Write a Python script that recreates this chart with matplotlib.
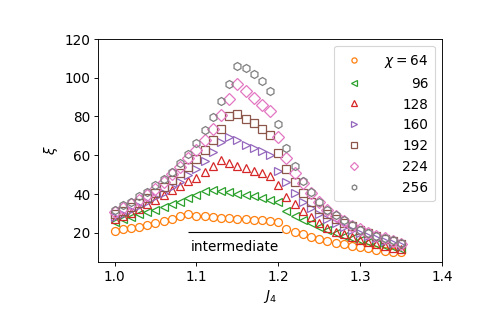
import numpy as np
import matplotlib
matplotlib.use("Agg")
import matplotlib.pyplot as plt

# J4 grid
J4 = np.round(np.arange(1.00, 1.355, 0.01), 2)

chis = [64, 96, 128, 160, 192, 224, 256]

xi_64 = [21.0, 21.6, 22.3, 23.1, 24.0, 25.0, 26.1, 27.2, 28.4, 29.4,
         28.6, 28.3, 28.0, 27.7, 27.4, 27.1, 26.8, 26.5, 26.2, 25.9, 25.6,
         21.9, 20.5, 19.3, 17.9, 16.7, 15.7, 14.8, 14.0, 13.2, 12.5,
         11.8, 11.2, 10.6, 10.1, 9.7]
xi_96 = [25.5, 26.8, 28.0, 29.3, 30.5, 31.8, 33.2, 34.6, 36.0, 37.6,
         39.5, 41.3, 42.0, 41.5, 40.8, 40.1, 39.3, 38.6, 37.8, 37.0, 36.0,
         30.9, 28.6, 26.6, 24.8, 23.1, 21.4, 19.8, 18.4, 17.1, 16.0,
         15.0, 14.0, 13.1, 12.3, 11.6]
xi_128 = [26.9, 28.6, 30.3, 32.2, 34.5, 36.9, 39.3, 41.8, 44.1, 46.4,
          48.4, 51.5, 54.6, 57.3, 55.9, 54.6, 53.3, 51.8, 50.5, 49.2, 44.7,
          38.5, 34.5, 30.9, 27.8, 25.0, 22.5, 20.5, 19.0, 17.6, 16.3,
          15.2, 14.2, 13.2, 12.2, 11.3]
xi_160 = [28.0, 29.6, 31.5, 33.5, 35.7, 38.1, 40.6, 43.3, 46.2, 49.5,
          53.0, 57.0, 61.5, 66.5, 69.3, 67.6, 65.3, 63.6, 61.9, 60.2, 52.0,
          45.9, 40.4, 36.0, 32.5, 29.5, 27.0, 25.0, 23.0, 21.3, 19.8,
          18.4, 17.0, 15.8, 14.6, 13.5]
xi_192 = [29.5, 31.2, 33.1, 35.2, 37.6, 40.5, 43.5, 47.0, 50.5, 54.0,
          58.0, 62.8, 67.9, 73.6, 80.0, 81.4, 78.8, 76.6, 73.5, 70.5, 61.0,
          52.8, 45.9, 40.4, 35.8, 32.3, 29.4, 27.0, 25.0, 23.2, 21.4,
          19.8, 18.3, 16.9, 15.5, 14.0]
xi_224 = [30.5, 32.5, 34.6, 37.0, 39.6, 42.6, 46.0, 50.0, 54.0, 58.3,
          62.4, 67.9, 73.6, 80.9, 89.0, 96.7, 93.3, 89.5, 86.0, 82.9, 69.3,
          58.5, 50.7, 45.5, 40.4, 35.7, 31.7, 28.5, 26.0, 23.6, 21.6,
          19.9, 18.4, 17.0, 15.6, 14.2]
xi_256 = [31.5, 34.0, 36.0, 38.6, 40.9, 44.6, 47.6, 51.5, 55.9, 60.7,
          66.2, 72.8, 79.5, 87.7, 96.9, 106.2, 105.0, 102.1, 98.4, 93.3, 76.2,
          63.6, 54.5, 46.4, 40.7, 36.0, 31.7, 29.1, 26.5, 24.0, 21.4,
          19.7, 18.3, 17.1, 15.9, 14.5]

series = [xi_64, xi_96, xi_128, xi_160, xi_192, xi_224, xi_256]
markers = ['o', '<', '^', '>', 's', 'D', 'h']
colors = ['C1', 'C2', 'C3', 'C4', 'C5', 'C6', 'C7']
labels = [r'$\chi=64$'] + [str(c) for c in chis[1:]]

plt.rcParams['font.size'] = 12
DPI = 491 / 6

fig, ax = plt.subplots(figsize=(6, 4), dpi=DPI)
fig.subplots_adjust(left=0.2, right=0.9, top=0.88, bottom=0.2)

for xi, m, c, lab in zip(series, markers, colors, labels):
    ax.plot(J4, xi, ls='none', marker=m, ms=7, mfc='none', mec=c,
            mew=1.1, label=lab)

# intermediate phase marker
ax.hlines(20.5, 1.09, 1.205, color='k', lw=1)
ax.text(1.1475, 12.8, 'intermediate', ha='center', va='center')

ax.set_xlim(0.98, 1.4)
ax.set_ylim(5, 120)
ax.set_xticks([1.0, 1.1, 1.2, 1.3, 1.4])
ax.set_yticks([20, 40, 60, 80, 100, 120])
ax.set_xlabel(r'$J_4$')
ax.set_ylabel(r'$\xi$')

# right-aligned legend labels: shift each text by its missing width
leg = ax.legend(loc='upper right', markerscale=0.65, handletextpad=1.2,
                borderpad=0.5)
fig.canvas.draw()
renderer = fig.canvas.get_renderer()
widths = [t.get_window_extent(renderer).width for t in leg.get_texts()]
maxw = max(widths)
for t, w in zip(leg.get_texts(), widths):
    t.set_position((maxw - w, 0))

fig.savefig('out.png', dpi=DPI)
